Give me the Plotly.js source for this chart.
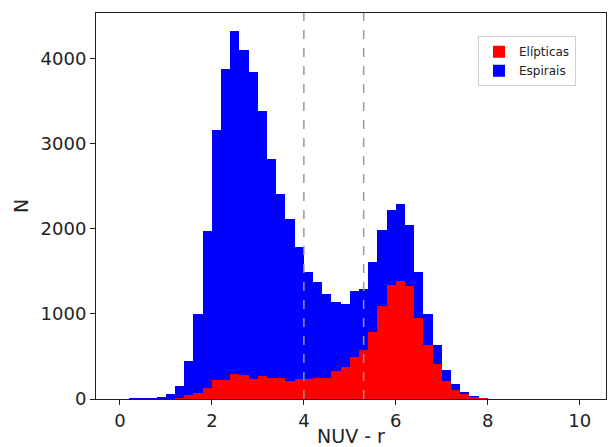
<!DOCTYPE html>
<html>
<head>
<meta charset="utf-8">
<script src="https://cdn.plot.ly/plotly-3.0.1.min.js"></script>
<style>html,body{margin:0;padding:0;background:#fff;}</style>
</head>
<body>
<div id="chart" style="width:611px;height:447px;"></div>
<script>
// Bin centres (width 0.2) for NUV - r
const binCenters = [0.1,0.3,0.5,0.7,0.9,1.1,1.3,1.5,1.7,1.9,2.1,2.3,2.5,2.7,2.9,3.1,3.3,3.5,3.7,3.9,4.1,4.3,4.5,4.7,4.9,5.1,5.3,5.5,5.7,5.9,6.1,6.3,6.5,6.7,6.9,7.1,7.3,7.5,7.7,7.9,8.1,8.3,8.5,8.7,8.9,9.1,9.3,9.5,9.7,9.9];
// Stacked total height (Espirais on top of Elípticas)
const espiraisTotal = [0,10,10,12,23,62,156,445,1000,1969,3164,3876,4317,4102,3840,3379,2817,2411,2112,1787,1495,1371,1229,1135,1121,1264,1289,1614,1981,2223,2285,2039,1492,996,633,336,172,86,35,12,0,0,0,0,0,0,0,0,0,0];
// Elípticas counts
const elipticas = [0,0,0,0,0,5,12,47,74,133,227,227,289,277,230,266,250,250,215,235,232,250,250,324,371,490,574,789,1098,1336,1383,1332,957,633,406,215,109,55,23,10,0,0,0,0,0,0,0,0,0,0];
const cuts = [4.0, 5.3];
const xTicks = [0,2,4,6,8,10];
const yTicks = [0,1000,2000,3000,4000];

const font = {family: 'DejaVu Sans, sans-serif', color: '#222'};

const traces = [
  {type:'bar', x: binCenters, y: espiraisTotal, name:'Espirais', width:0.2,
   marker:{color:'#0000ff', line:{width:0}}, legendrank:2},
  {type:'bar', x: binCenters, y: elipticas, name:'Elípticas', width:0.2,
   marker:{color:'#ff0000', line:{width:0}}, legendrank:1}
];

const shapes = cuts.map(c => ({type:'line', xref:'x', yref:'paper', x0:c, x1:c, y0:0, y1:1,
  line:{color:'#999999', width:1.5, dash:'dash'}}));

const layout = {
  width:611, height:447,
  margin:{l:96, r:5, t:13, b:48},
  paper_bgcolor:'#fff', plot_bgcolor:'#fff',
  barmode:'overlay', bargap:0,
  font: font,
  showlegend:true,
  legend:{x:0.749, y:0.94, xanchor:'left', yanchor:'top', bgcolor:'rgba(255,255,255,0.8)',
    bordercolor:'#d0d0d0', borderwidth:1, font:{family:'DejaVu Sans, sans-serif', size:12, color:'#222'},
    traceorder:'normal'},
  xaxis:{range:[-0.52,10.57], tickvals:xTicks, ticktext:xTicks.map(String), ticks:'outside', ticklen:5,
    tickcolor:'#222', showgrid:false, zeroline:false, showline:true, linecolor:'#222', linewidth:1, mirror:true,
    tickfont:{size:18, color:'#222'}, title:{text:'NUV - r', font:{size:19, color:'#222'}, standoff:4}},
  yaxis:{range:[0,4533], tickvals:yTicks, ticktext:yTicks.map(String), ticks:'outside', ticklen:5,
    tickcolor:'#222', showgrid:false, zeroline:false, showline:true, linecolor:'#222', linewidth:1, mirror:true,
    tickfont:{size:18, color:'#222'}, title:{text:'N', font:{size:19, color:'#222'}, standoff:6}},
  shapes: shapes
};

Plotly.newPlot('chart', traces, layout, {displayModeBar:false, staticPlot:true});
</script>
</body>
</html>
